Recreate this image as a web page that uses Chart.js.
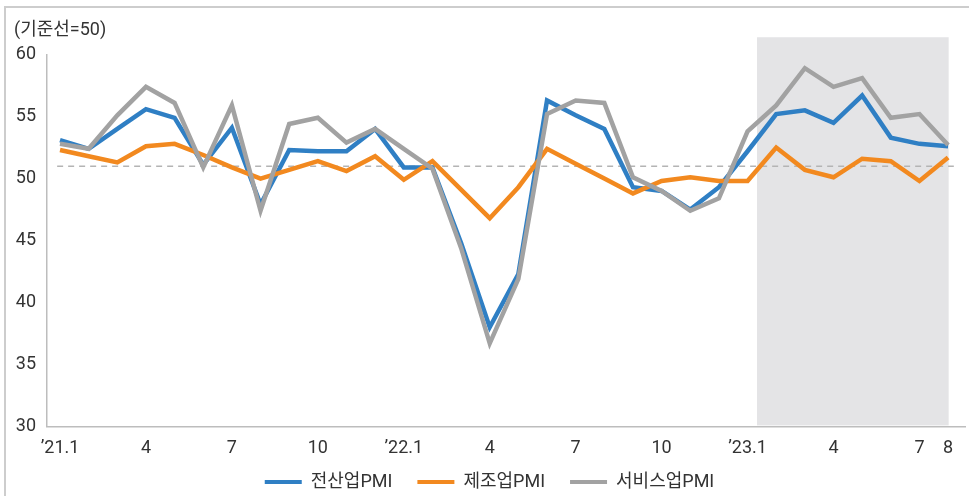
<!DOCTYPE html>
<html lang="ko">
<head>
<meta charset="utf-8">
<title>PMI</title>
<script src="https://cdn.jsdelivr.net/npm/chart.js@4/dist/chart.umd.min.js"></script>
<style>
  html, body { margin: 0; padding: 0; background: #fff; }
  #wrap { position: relative; width: 969px; height: 496px; }
  #frame { position: absolute; left: 4px; top: 6px; right: 0; bottom: 0;
           border-top: 2px solid #cdcdcd; border-left: 2px solid #cdcdcd; pointer-events: none; }
  canvas { position: absolute; left: 0; top: 0; }
</style>
</head>
<body>
<div id="wrap">
  <canvas id="chart" width="969" height="496"></canvas>
  <div id="frame"></div>
</div>
<script>
// Monthly index, Jan 2021 (0) .. Aug 2023 (31)
const tickPositions = [0, 3, 6, 9, 12, 15, 18, 21, 24, 27, 30, 31];
const tickLabels = ['’21.1', '4', '7', '10', '’22.1', '4', '7', '10', '’23.1', '4', '7', '8'];

const seriesNames = ['전산업PMI', '제조업PMI', '서비스업PMI'];

const composite = [53.1, 52.4, 54.0, 55.6, 54.9, 51.1, 54.1, 47.9, 52.3, 52.2, 52.2, 54.0,
                   50.9, 50.9, 44.8, 38.0, 42.3, 56.3, 55.1, 54.0, 49.3, 49.0, 47.5, 49.3,
                   52.2, 55.2, 55.5, 54.5, 56.7, 53.3, 52.8, 52.6];
const manufacturing = [52.3, 51.8, 51.3, 52.6, 52.8, 51.9, 50.9, 50.0, 50.7, 51.4, 50.6, 51.8,
                       49.9, 51.4, 49.1, 46.8, 49.3, 52.4, 51.2, 50.0, 48.8, 49.8, 50.1, 49.8,
                       49.8, 52.5, 50.7, 50.1, 51.6, 51.4, 49.8, 51.7];
const services = [52.8, 52.4, 55.1, 57.4, 56.1, 50.9, 55.9, 47.4, 54.4, 54.9, 52.9, 54.0,
                  52.4, 50.8, 44.4, 36.7, 41.9, 55.2, 56.3, 56.1, 50.1, 49.0, 47.4, 48.4,
                  53.8, 55.9, 58.9, 57.4, 58.1, 54.9, 55.2, 52.7];

// Reference level and the highlighted 2023 span (in month-index units)
const referenceLevel = 51;
const shadeSpan = [24.33, 31.02];

const FONT = 'Roboto, "Noto Sans CJK KR", sans-serif';
const toPoints = arr => arr.map((v, i) => ({ x: i, y: v }));

const overlayPlugin = {
  id: 'overlay',
  beforeDatasetsDraw(chart) {
    const { ctx, scales: { x, y } } = chart;
    ctx.save();
    // shaded period
    const l = x.getPixelForValue(shadeSpan[0]);
    const r = x.getPixelForValue(shadeSpan[1]);
    const t = y.getPixelForValue(61.4);
    const b = y.getPixelForValue(30) - 1;
    ctx.fillStyle = '#e4e4e6';
    ctx.fillRect(l, t, r - l, b - t);
    // dashed reference line
    const yy = y.getPixelForValue(referenceLevel);
    ctx.strokeStyle = '#b4b4b4';
    ctx.lineWidth = 1.5;
    ctx.setLineDash([6, 5]);
    ctx.beginPath();
    ctx.moveTo(x.getPixelForValue(-0.1), yy);
    ctx.lineTo(x.getPixelForValue(31.2), yy);
    ctx.stroke();
    ctx.restore();
  }
};

const colors = ['#2f7fc4', '#f2891f', '#a2a2a2'];

const chart = new Chart(document.getElementById('chart'), {
  type: 'line',
  data: {
    datasets: [
      { label: seriesNames[0], data: toPoints(composite), borderColor: colors[0], backgroundColor: colors[0], order: 2 },
      { label: seriesNames[1], data: toPoints(manufacturing), borderColor: colors[1], backgroundColor: colors[1], order: 1 },
      { label: seriesNames[2], data: toPoints(services), borderColor: colors[2], backgroundColor: colors[2], order: 0 }
    ]
  },
  options: {
    responsive: false,
    animation: false,
    events: [],
    layout: { padding: { left: 14, right: 4, top: 0, bottom: -5 } },
    elements: {
      line: { borderWidth: 4.5, tension: 0, borderJoinStyle: 'miter', fill: false },
      point: { radius: 0 }
    },
    scales: {
      x: {
        type: 'linear',
        min: -0.454,
        max: 31.59,
        grid: { display: false, drawTicks: false },
        border: { display: true, color: '#bdbdbd', width: 1.5 },
        afterBuildTicks(scale) { scale.ticks = tickPositions.map(v => ({ value: v })); },
        ticks: {
          autoSkip: false, maxRotation: 0, padding: 11,
          color: '#333', font: { size: 18, family: FONT },
          callback: v => tickLabels[tickPositions.indexOf(v)]
        }
      },
      y: {
        min: 30, max: 60,
        grid: { display: false, drawTicks: false },
        border: { display: true, color: '#bdbdbd', width: 1.5 },
        afterFit(scale) { scale.width = 33; },
        ticks: { stepSize: 5, padding: 11, color: '#333', font: { size: 18, family: FONT } }
      }
    },
    plugins: {
      tooltip: { enabled: false },
      title: {
        display: true, text: '(기준선=50)', align: 'start',
        color: '#333', font: { size: 18, weight: 'normal', family: FONT },
        padding: { top: 20, bottom: 13 }
      },
      legend: {
        position: 'bottom',
        labels: {
          boxWidth: 37, boxHeight: 4, padding: 25,
          color: '#333', font: { size: 18, family: FONT },
          generateLabels(chart) {
            return chart.data.datasets.map((ds, i) => ({
              text: ds.label, fillStyle: ds.borderColor, strokeStyle: ds.borderColor,
              lineWidth: 0, hidden: false, datasetIndex: i, fontColor: '#333'
            }));
          }
        }
      }
    }
  },
  plugins: [overlayPlugin]
});

// Keep the wide spacing between legend items but trim the space above the legend row
const legendTrim = 22;
const legend = chart.legend;
const baseFit = legend.fit;
const baseDraw = legend.draw;
legend.fit = function () { baseFit.call(this); this.height -= legendTrim; };
legend.draw = function (area) { this.top -= legendTrim; baseDraw.call(this, area); this.top += legendTrim; };
chart.update();
</script>
</body>
</html>
